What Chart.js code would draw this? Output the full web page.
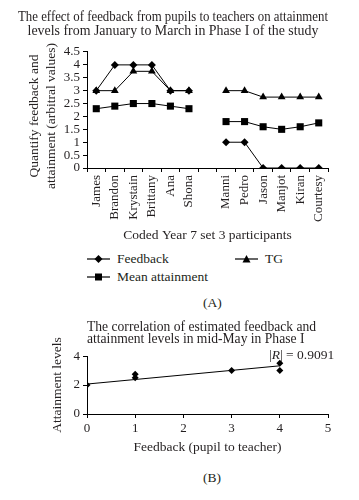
<!DOCTYPE html>
<html>
<head>
<meta charset="utf-8">
<script src="https://cdn.jsdelivr.net/npm/chart.js@4"></script>
<style>
  html, body { margin: 0; padding: 0; background: #fff; }
  #wrap { position: relative; width: 359px; height: 500px; overflow: hidden; font-family: 'Liberation Serif', 'DejaVu Serif', serif; color: #231f20; }
  canvas { position: absolute; left: 0; }
  .txt { position: absolute; font-size: 13.5px; line-height: 16px; white-space: nowrap; }
  .lg { position: absolute; height: 16px; display: flex; align-items: center; font-size: 13.5px; white-space: nowrap; }
  .lg svg { margin-right: 7px; }
  #ytA { position: absolute; left: -58.5px; top: 99px; width: 200px; height: 34px; font-size: 13.5px; line-height: 17px; text-align: center; transform: rotate(-90deg); transform-origin: 50% 50%; white-space: nowrap; }
</style>
</head>
<body>
<div id="wrap">
  <canvas id="cA" width="359" height="250" style="top:0px"></canvas>
  <canvas id="cB" width="359" height="140" style="top:318px"></canvas>

  <div id="ytA">Quantify feedback and<br>attainment (arbitral values)</div>

  <div class="lg" style="left:87px; top:251px;">
    <svg width="23" height="10"><line x1="0" y1="5" x2="23" y2="5" stroke="#000" stroke-width="1.2"/><polygon points="11.5,1 15.5,5 11.5,9 7.5,5" fill="#000"/></svg>Feedback
  </div>
  <div class="lg" style="left:235px; top:251px;">
    <svg width="23" height="10"><line x1="0" y1="5" x2="23" y2="5" stroke="#000" stroke-width="1.2"/><polygon points="11.5,1 15.5,8.5 7.5,8.5" fill="#000"/></svg>TG
  </div>
  <div class="lg" style="left:87px; top:269px;">
    <svg width="23" height="10"><line x1="0" y1="5" x2="23" y2="5" stroke="#000" stroke-width="1.2"/><rect x="8" y="1.5" width="7" height="7" fill="#000"/></svg>Mean attainment
  </div>
  <div class="txt" style="left:203px; top:295px;">(A)</div>
  <div class="txt" style="left:269px; top:347px;">|<i>R</i>| = 0.9091</div>
  <div class="txt" style="left:203px; top:470px;">(B)</div>
</div>
<script>
// ---------- Chart A data ----------
const participants = ['James', 'Brandon', 'Krystain', 'Brittany', 'Ana', 'Shona', '', 'Manni', 'Pedro', 'Jason', 'Manjot', 'Kiran', 'Courtesy'];
const feedback = [3, 4, 4, 4, 3, 3, null, 1, 1, 0, 0, 0, 0];
const tg = [3, 3, 3.75, 3.75, 3, 3, null, 3, 3, 2.75, 2.75, 2.75, 2.75];
const meanAttainment = [2.3, 2.4, 2.5, 2.5, 2.4, 2.3, null, 1.8, 1.8, 1.6, 1.5, 1.6, 1.75];
const yTicksA = [0, 0.5, 1, 1.5, 2, 2.5, 3, 3.5, 4, 4.5];

// ---------- Chart B data ----------
const feedbackB = [0, 1, 1, 3, 4, 4];
const attainmentB = [2, 2.5, 2.75, 3, 3.5, 3];
const trendX = [0, 4];
const trendY = [2.07, 3.33];

const FONT = "'Liberation Serif', 'DejaVu Serif', serif";
const INK = '#231f20';
Chart.defaults.font.family = FONT;
Chart.defaults.color = INK;

new Chart(document.getElementById('cA'), {
  type: 'line',
  data: {
    labels: participants,
    datasets: [
      { label: 'Feedback', data: feedback, borderColor: '#000', backgroundColor: '#000', borderWidth: 1, pointStyle: 'rectRot', pointRadius: 4, pointBorderWidth: 0, spanGaps: false },
      { label: 'TG', data: tg, borderColor: '#000', backgroundColor: '#000', borderWidth: 1, pointStyle: 'triangle', pointRadius: 4.5, pointBorderWidth: 0, spanGaps: false },
      { label: 'Mean attainment', data: meanAttainment, borderColor: '#000', backgroundColor: '#000', borderWidth: 1, pointStyle: 'rect', pointRadius: 5, pointBorderWidth: 0, spanGaps: false }
    ]
  },
  options: {
    responsive: false,
    animation: false,
    layout: { padding: { left: 18, right: 31, top: 0, bottom: 2 } },
    plugins: {
      legend: { display: false },
      tooltip: { enabled: false },
      title: {
        display: true,
        text: ['The effect of feedback from pupils to teachers on attainment', 'levels from January to March in Phase I of the study'],
        font: { size: 13.9, weight: 'normal', lineHeight: 1.05 },
        color: INK,
        padding: { top: 9.7, bottom: 13.1 }
      }
    },
    scales: {
      x: {
        type: 'category',
        offset: true,
        grid: { offset: true, drawOnChartArea: false, drawTicks: true, tickLength: 4, color: '#000' },
        border: { color: '#000', width: 1 },
        ticks: { autoSkip: false, minRotation: 90, maxRotation: 90, padding: 3, font: { size: 13 }, color: INK },
        title: { display: true, text: 'Coded Year 7 set 3 participants', font: { size: 13.5, lineHeight: 1.2 }, color: INK, padding: { top: 0, bottom: 4 } },
        afterFit: (s) => { s.height = 80; }
      },
      y: {
        min: 0, max: 4.5,
        afterBuildTicks: (s) => { s.ticks = yTicksA.map(v => ({ value: v })); },
        grid: { drawOnChartArea: false, drawTicks: true, tickLength: 4, color: '#000' },
        border: { color: '#000', width: 1 },
        ticks: { autoSkip: false, padding: 3, font: { size: 13 }, color: INK, callback: (v) => String(v) },
        title: { display: false },
        afterFit: (s) => { s.width = 69; }
      }
    }
  }
});

new Chart(document.getElementById('cB'), {
  type: 'scatter',
  data: {
    datasets: [
      { type: 'line', label: 'Trend', data: trendX.map((x, i) => ({ x: x, y: trendY[i] })), borderColor: '#000', borderWidth: 1, pointRadius: 0, fill: false },
      { label: 'Points', data: feedbackB.map((x, i) => ({ x: x, y: attainmentB[i] })), backgroundColor: '#000', borderColor: '#000', pointStyle: 'rectRot', pointRadius: 3.5, pointBorderWidth: 0 }
    ]
  },
  options: {
    responsive: false,
    animation: false,
    layout: { padding: { left: 18, right: 31, top: 0, bottom: 2 } },
    plugins: {
      legend: { display: false },
      tooltip: { enabled: false },
      title: {
        display: true,
        fullSize: false,
        align: 'start',
        text: ['The correlation of estimated feedback and', 'attainment levels in mid-May in Phase I'],
        font: { size: 13.6, weight: 'normal', lineHeight: 0.85 },
        color: INK,
        padding: { top: 4, bottom: 11 }
      }
    },
    scales: {
      x: {
        type: 'linear', min: 0, max: 5,
        ticks: { stepSize: 1, padding: 3, font: { size: 13 }, color: INK },
        grid: { drawOnChartArea: false, drawTicks: true, tickLength: 4, color: '#000' },
        border: { color: '#000', width: 1 },
        title: { display: true, text: 'Feedback (pupil to teacher)', font: { size: 13.5, lineHeight: 1.2 }, color: INK, padding: { top: 0, bottom: 0 } },
        afterFit: (s) => { s.height = 42; }
      },
      y: {
        type: 'linear', min: 0, max: 4,
        ticks: { stepSize: 1, padding: 3, font: { size: 13 }, color: INK },
        grid: { drawOnChartArea: false, drawTicks: true, tickLength: 4, color: '#000' },
        border: { color: '#000', width: 1 },
        title: { display: true, text: 'Attainment levels', font: { size: 13.5, lineHeight: 1.2 }, color: INK, padding: { top: 31, bottom: 0 } },
        afterFit: (s) => { s.width = 69; }
      }
    }
  }
});
</script>
</body>
</html>
